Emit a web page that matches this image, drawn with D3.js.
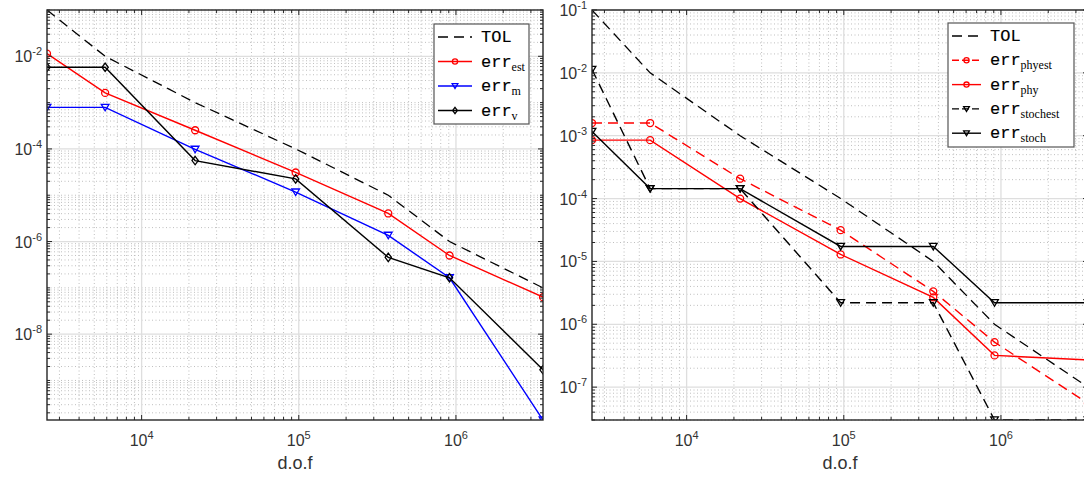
<!DOCTYPE html>
<html>
<head>
<meta charset="utf-8">
<script src="https://cdn.jsdelivr.net/npm/d3@7"></script>
<style>
  body { margin: 0; background: #fff; }
  svg { display: block; }
</style>
</head>
<body>
<div id="chart"></div>
<script>
// degrees of freedom (shared by both panels)
const dof = [2500, 5860, 21900, 95500, 371000, 910000, 3580000];
const tol = [1e-1, 1e-2, 1e-3, 1e-4, 1e-5, 1e-6, 1e-7];

// left panel
const errEst = [1.14e-2, 1.62e-3, 2.53e-4, 3.1e-5, 4.04e-6, 5.0e-7, 6.3e-8];
const errM = [7.9e-4, 7.9e-4, 9.8e-5, 1.17e-5, 1.36e-6, 1.65e-7, 1.4e-10];
const errV = [5.8e-3, 5.8e-3, 5.6e-5, 2.25e-5, 4.55e-7, 1.65e-7, 1.7e-9];

// right panel
const errPhyest = [1.59e-3, 1.59e-3, 2.07e-4, 3.14e-5, 3.34e-6, 5.2e-7, 5.5e-8];
const errPhy = [8.5e-4, 8.5e-4, 1.0e-4, 1.29e-5, 2.68e-6, 3.2e-7, 2.7e-7];
const errStochest = [1.13e-2, 1.44e-4, 1.44e-4, 2.2e-6, 2.2e-6, 3.0e-8, 3.0e-8];
const errStoch = [1.17e-3, 1.44e-4, 1.44e-4, 1.73e-5, 1.73e-5, 2.2e-6, 2.2e-6];

const xTicks = [1e4, 1e5, 1e6];
const yTicksLeft = [1e-2, 1e-4, 1e-6, 1e-8];
const yTicksRight = [1e-1, 1e-2, 1e-3, 1e-4, 1e-5, 1e-6, 1e-7];

const width = 1084, height = 477;
const svg = d3.select('#chart').append('svg')
    .attr('width', width)
    .attr('height', height);

const axisColor = '#262626';
const labelFont = '"Liberation Sans", Arial, sans-serif';

function minorValues(domain) {
    const vals = [];
    const lo = Math.floor(Math.log10(domain[0]));
    const hi = Math.ceil(Math.log10(domain[1]));
    for (let k = lo; k <= hi; k++) {
        for (let m = 1; m <= 9; m++) {
            const v = m * Math.pow(10, k);
            if (v >= domain[0] * 0.999 && v <= domain[1] * 1.001) vals.push(v);
        }
    }
    return vals;
}

function marker(g, type, x, y, size, color) {
    if (type === 'circle') {
        g.append('circle').attr('cx', x).attr('cy', y).attr('r', size)
            .attr('fill', 'none').attr('stroke', color).attr('stroke-width', 1.3);
    } else if (type === 'diamond') {
        const s = size * 1.2;
        g.append('path')
            .attr('d', `M${x},${y - s}L${x + s * 0.75},${y}L${x},${y + s}L${x - s * 0.75},${y}Z`)
            .attr('fill', 'none').attr('stroke', color).attr('stroke-width', 1.3);
    } else if (type === 'tri') {
        const s = size * 1.1;
        g.append('path')
            .attr('d', `M${x - s},${y - s * 0.8}L${x + s},${y - s * 0.8}L${x},${y + s * 0.9}Z`)
            .attr('fill', 'none').attr('stroke', color).attr('stroke-width', 1.3);
    }
}

function powLabel(sel, exp) {
    sel.append('tspan').text('10');
    sel.append('tspan').attr('dy', -7).attr('font-size', 11).text(exp);
}

function drawPanel(p) {
    const x = d3.scaleLog().domain(d3.extent(dof)).range([p.left, p.left + 496]);
    const allY = p.series.flatMap(s => s.values);
    const y = d3.scaleLog().domain(d3.extent(allY)).range([420, 10]);
    const [x0, x1] = x.range();
    const [y1, y0] = y.range();

    const clipId = 'clip' + p.left;
    svg.append('clipPath').attr('id', clipId)
        .append('rect').attr('x', x0).attr('y', y0).attr('width', x1 - x0).attr('height', y1 - y0);

    const grid = svg.append('g');
    const majorX = xTicks;
    const majorY = p.yTicks;

    // minor grid (dotted)
    minorValues(x.domain()).filter(v => !majorX.includes(v)).forEach(v => {
        grid.append('line').attr('x1', x(v)).attr('x2', x(v)).attr('y1', y0).attr('y2', y1)
            .attr('stroke', '#b8b8b8').attr('stroke-width', 0.9).attr('stroke-dasharray', '1,2.5');
    });
    minorValues(y.domain()).filter(v => !majorY.some(t => Math.abs(t - v) / t < 1e-6)).forEach(v => {
        grid.append('line').attr('y1', y(v)).attr('y2', y(v)).attr('x1', x0).attr('x2', x1)
            .attr('stroke', '#b8b8b8').attr('stroke-width', 0.9).attr('stroke-dasharray', '1,2.5');
    });
    // major grid
    majorX.forEach(v => {
        grid.append('line').attr('x1', x(v)).attr('x2', x(v)).attr('y1', y0).attr('y2', y1)
            .attr('stroke', '#dedede').attr('stroke-width', 1.3);
    });
    majorY.forEach(v => {
        grid.append('line').attr('y1', y(v)).attr('y2', y(v)).attr('x1', x0).attr('x2', x1)
            .attr('stroke', '#dedede').attr('stroke-width', 1.3);
    });

    // series
    const plot = svg.append('g').attr('clip-path', `url(#${clipId})`);
    const line = d3.line().x((d, i) => x(dof[i])).y(d => y(d));
    p.series.forEach(s => {
        plot.append('path').datum(s.values)
            .attr('d', line)
            .attr('fill', 'none')
            .attr('stroke', s.color)
            .attr('stroke-width', s.marker ? 1.4 : 1.3)
            .attr('stroke-dasharray', s.dash ? '10,6' : null);
        if (s.marker) {
            s.values.forEach((v, i) => marker(plot, s.marker, x(dof[i]), y(v), 3.5, s.color));
        }
    });

    // axes box and ticks
    const ax = svg.append('g');
    minorValues(x.domain()).forEach(v => {
        const len = majorX.includes(v) ? 5 : 3;
        ax.append('line').attr('x1', x(v)).attr('x2', x(v)).attr('y1', y1).attr('y2', y1 - len)
            .attr('stroke', axisColor);
        ax.append('line').attr('x1', x(v)).attr('x2', x(v)).attr('y1', y0).attr('y2', y0 + len)
            .attr('stroke', axisColor);
    });
    minorValues(y.domain()).forEach(v => {
        const len = majorY.some(t => Math.abs(t - v) / t < 1e-6) ? 5 : 3;
        ax.append('line').attr('y1', y(v)).attr('y2', y(v)).attr('x1', x0).attr('x2', x0 + len)
            .attr('stroke', axisColor);
        ax.append('line').attr('y1', y(v)).attr('y2', y(v)).attr('x1', x1).attr('x2', x1 - len)
            .attr('stroke', axisColor);
    });
    ax.append('rect').attr('x', x0).attr('y', y0).attr('width', x1 - x0).attr('height', y1 - y0)
        .attr('fill', 'none').attr('stroke', axisColor).attr('stroke-width', 1.4);

    // tick labels
    xTicks.forEach(v => {
        ax.append('text').attr('x', x(v)).attr('y', 446)
            .attr('text-anchor', 'middle').attr('font-family', labelFont).attr('font-size', 16)
            .attr('fill', '#333')
            .call(powLabel, Math.round(Math.log10(v)));
    });
    majorY.forEach(v => {
        ax.append('text').attr('x', x0 - 5).attr('y', y(v) + 6)
            .attr('text-anchor', 'end').attr('font-family', labelFont).attr('font-size', 16)
            .attr('fill', '#333')
            .call(powLabel, Math.round(Math.log10(v)));
    });
    ax.append('text').attr('x', (x0 + x1) / 2).attr('y', 469)
        .attr('text-anchor', 'middle').attr('font-family', labelFont).attr('font-size', 18)
        .attr('fill', '#333').text('d.o.f');

    // legend
    const lg = p.legend;
    const leg = svg.append('g');
    leg.append('rect').attr('x', lg.x).attr('y', lg.y).attr('width', lg.w).attr('height', lg.h)
        .attr('fill', '#fff').attr('stroke', '#555').attr('stroke-width', 1.2);
    p.series.forEach((s, i) => {
        const cy = lg.y + 13 + i * lg.step;
        leg.append('line').attr('x1', lg.x + 4).attr('x2', lg.x + 4 + lg.sample)
            .attr('y1', cy).attr('y2', cy)
            .attr('stroke', s.color).attr('stroke-width', 1.4)
            .attr('stroke-dasharray', s.dash ? (s.marker ? '7,3' : '10,6') : null);
        if (s.marker) marker(leg, s.marker, lg.x + 4 + lg.sample / 2, cy, 2.6, s.color);
        const t = leg.append('text').attr('x', lg.x + lg.sample + 13).attr('y', cy + 5)
            .attr('fill', '#000');
        t.append('tspan').attr('font-family', '"Liberation Mono", "Courier New", monospace')
            .attr('font-size', 17).attr('stroke', '#000').attr('stroke-width', 0.15).text(s.name);
        if (s.sub) {
            t.append('tspan').attr('font-family', '"Liberation Serif", "Times New Roman", serif')
                .attr('font-size', 12).attr('dy', 4).text(s.sub);
        }
    });
}

drawPanel({
    left: 47,
    yTicks: yTicksLeft,
    series: [
        { name: 'TOL', values: tol, color: '#000', dash: true },
        { name: 'err', sub: 'est', values: errEst, color: '#ff0000', marker: 'circle' },
        { name: 'err', sub: 'm', values: errM, color: '#0000ff', marker: 'tri' },
        { name: 'err', sub: 'v', values: errV, color: '#000', marker: 'diamond' }
    ],
    legend: { x: 434, y: 24, w: 95, h: 100, step: 24.5, sample: 34 }
});

drawPanel({
    left: 592,
    yTicks: yTicksRight,
    series: [
        { name: 'TOL', values: tol, color: '#000', dash: true },
        { name: 'err', sub: 'phyest', values: errPhyest, color: '#ff0000', marker: 'circle', dash: true },
        { name: 'err', sub: 'phy', values: errPhy, color: '#ff0000', marker: 'circle' },
        { name: 'err', sub: 'stochest', values: errStochest, color: '#000', marker: 'tri', dash: true },
        { name: 'err', sub: 'stoch', values: errStoch, color: '#000', marker: 'tri' }
    ],
    legend: { x: 948, y: 23, w: 126, h: 124, step: 24.3, sample: 29 }
});
</script>
</body>
</html>
